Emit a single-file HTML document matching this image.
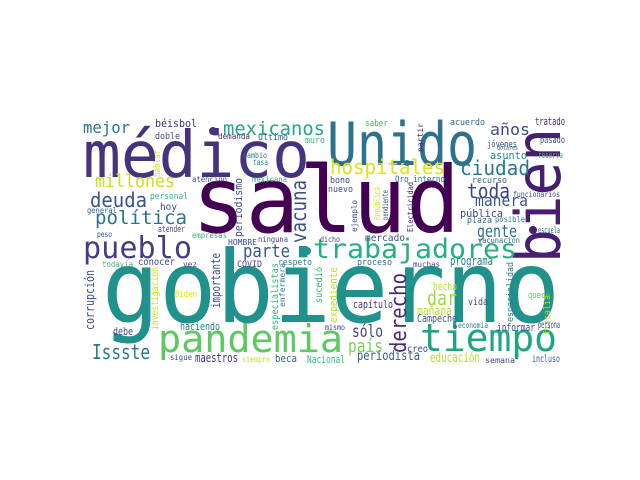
<!DOCTYPE html>
<html><head><meta charset="utf-8"><style>
html,body{margin:0;padding:0;background:#fff;}
svg{display:block;}
text{font-family:"DejaVu Sans Mono","Liberation Mono",monospace;}
</style></head><body>
<svg id="cloud" width="640" height="480" viewBox="0 0 640 480" xmlns="http://www.w3.org/2000/svg">
<rect width="640" height="480" fill="#fff"/>
</svg>
<script>
// [word, x, y, size, color, length, vertical]
// horizontal: x=left, y=baseline ; vertical: x=baseline (right edge), y=bottom
const words = [
["gobierno",102,322,100,"#21918c",458,0],
["salud",192,232,92,"#440154",268,0],
["médico",83,177,64,"#46337e",227,0],
["Unido",327,165,60,"#2c728e",150,0],
["bien",560,263,62,"#481f70",135,1],
["pueblo",83,258,30,"#433e85",109,0],
["trabajadores",313,258,27,"#29af7f",204,0],
["pandemia",158,352,38,"#5ec962",185,0],
["tiempo",420,351,38,"#20a486",137,0],
["derecho",406,353,22,"#482878",80,1],
["hospitales",330,174,20,"#dde318",115,0],
["mexicanos",223,135,19,"#22a884",102,0],
["mejor",83,133,16,"#2c728e",47,0],
["béisbol",155,127,11,"#46337e",42,0],
["doble",155,139,9,"#414487",25,0],
["demanda",218,139,8,"#472d7b",32,0],
["último",258,140,9,"#3b528b",30,0],
["muro",305,143,9,"#35b779",20,0],
["saber",365,126,9,"#35b779",23,0],
["acuerdo",450,125,9,"#31688e",35,0],
["tratado",535,125,11,"#482878",30,0],
["años",490,135,16,"#3e4a89",40,0],
["partir",423,152,8,"#472d7b",29,1],
["jóvenes",487,147,9,"#3b528b",30,0],
["dolares",497,150,7,"#3b528b",21,0],
["pasado",540,143,10,"#3b528b",25,0],
["asunto",490,159,11,"#26828e",37,0],
["reserva",538,158,9,"#35b779",25,0],
["ciudad",460,175,20,"#2a788e",70,0],
["hablar",160,177,9,"#dde318",27,1],
["cambio",243,158,8,"#26828e",24,0],
["tasa",253,165,8,"#26828e",15,0],
["millones",95,187,18,"#c8e020",80,0],
["atención",192,182,8,"#3e4a89",35,0],
["mexicana",252,182,8,"#35b779",35,0],
["bono",330,183,9,"#3e4a89",20,0],
["nuevo",328,192,9,"#3e4a89",25,0],
["vacuna",306,243,21,"#3b528b",63,1],
["periodismo",242,237,11,"#3e4a89",59,1],
["República",380,220,9,"#dde318",33,1],
["pendiente",388,220,8,"#3e4a89",30,1],
["Oro interno",395,182,8.5,"#31688e",50,0],
["Electricidad",413,232,8,"#482878",50,1],
["recurso",472,183,9,"#31688e",35,0],
["toda",467,198,20,"#414487",43,0],
["funcionarios",513,197,8,"#3e4a89",47,0],
["manera",475,206,16,"#38598c",53,0],
["deuda",90,207,20,"#3b528b",57,0],
["personal",150,199,9,"#35b779",38,0],
["hoy",160,210,10,"#3e4a89",17,0],
["general",87,213,8,"#31688e",30,0],
["política",95,224,19,"#2c728e",92,0],
["pública",460,217,11,"#414487",43,0],
["plaza",467,223,9,"#31688e",25,0],
["posible",495,222,8,"#26828e",30,0],
["ejemplo",357,232,8,"#3e4a89",32,1],
["atender",158,232,9,"#3e4a89",27,0],
["peso",97,237,8,"#3b528b",15,0],
["gente",477,237,17,"#2f6c8e",40,0],
["escuela",538,233,9,"#2c728e",22,0],
["empresas",192,238,8,"#35b779",35,0],
["ninguna",258,242,8,"#3e4a89",30,0],
["dicho",320,242,8,"#3e4a89",20,0],
["mercado",365,241,10,"#3b528b",40,0],
["vacunación",478,243,8,"#2c728e",42,0],
["HOMBRE",228,245,8,"#3e4a89",29,0],
["parte",243,257,18,"#38598c",47,0],
["todavía",102,267,8,"#35b779",31,0],
["conocer",138,265,10,"#3e4a89",37,0],
["vez",183,267,8,"#3e4a89",14,0],
["COVID",237,267,9,"#3e4a89",25,0],
["respeto",278,265,9,"#26828e",34,0],
["proceso",357,265,9,"#31688e",35,0],
["muchas",413,267,8,"#3e4a89",27,0],
["programa",450,265,12,"#26828e",43,0],
["corrupción",94,330,12,"#3e4a89",60,1],
["investigación",158,330,10,"#c8e020",63,1],
["importante",220,308,12,"#3e4a89",55,1],
["especialistas",278,330,10,"#35b779",67,1],
["enfermera",285,307,8,"#26828e",44,1],
["sucedió",322,303,10,"#35b779",36,1],
["expediente",337,323,11,"#b5de2b",56,1],
["especialidad",513,322,9,"#26828e",60,1],
["fiscalía",550,335,9,"#b5de2b",40,1],
["Biden",175,297,9,"#dde318",22,0],
["hecho",433,290,11,"#b5de2b",24,0],
["dar",427,305,20,"#9fda3a",30,0],
["capítulo",353,308,11,"#472d7b",40,0],
["vida",468,305,10,"#3e4a89",20,0],
["quedó",528,298,9,"#5ec962",22,0],
["mañana",417,315,12,"#b5de2b",35,0],
["Campeche",417,322,11,"#38598c",40,0],
["debe",113,335,11,"#3e4a89",20,0],
["haciendo",180,330,11,"#26828e",40,0],
["mismo",325,330,8,"#3e4a89",20,0],
["economía",458,328,8,"#26828e",30,0],
["informar",497,331,11,"#3e4a89",38,0],
["persona",538,328,10,"#3e4a89",22,0],
["sólo",352,337,17,"#414487",31,0],
["Issste",92,359,20,"#2a788e",58,0],
["sigue",170,360,8,"#3e4a89",22,0],
["maestros",195,362,12,"#46337e",43,0],
["siempre",242,362,8,"#c8e020",28,0],
["beca",275,362,11,"#31688e",22,0],
["Nacional",307,363,11,"#35b779",38,0],
["país",348,352,18,"#7ad151",35,0],
["creo",407,352,10,"#3e4a89",21,0],
["periodista",357,360,13,"#38598c",63,0],
["educación",430,362,13,"#b5de2b",50,0],
["semana",485,363,8,"#3e4a89",30,0],
["incluso",532,362,10,"#3b528b",28,0]
];
const svg = document.getElementById('cloud');
const NS = 'http://www.w3.org/2000/svg';
for (const w of words) {
  const t = document.createElementNS(NS, 'text');
  
  
  t.setAttribute('font-size', w[3]);
  t.setAttribute('fill', w[4]);
  t.setAttribute('textLength', w[5]);
  t.setAttribute('lengthAdjust', 'spacingAndGlyphs');
  if (w[6]) {
    t.setAttribute('x', 0); t.setAttribute('y', 0);
    t.setAttribute('transform', 'translate(' + w[1] + ',' + w[2] + ') rotate(-90)');
  } else {
    t.setAttribute('x', w[1]); t.setAttribute('y', w[2]);
  }
  t.textContent = w[0];
  svg.appendChild(t);
}
const dots = [[307,251,4,"#21918c"],[213,131,4,"#46337e"],[407,163,3,"#2c728e"],[455,327,2,"#26828e"],[533,230,4,"#481f70"]];
for (const d of dots) {
  const c = document.createElementNS(NS, 'circle');
  
  
  c.setAttribute('cx', d[0]); c.setAttribute('cy', d[1]); c.setAttribute('r', d[2]); c.setAttribute('fill', d[3]);
  svg.appendChild(c);
}
</script>
</body></html>
